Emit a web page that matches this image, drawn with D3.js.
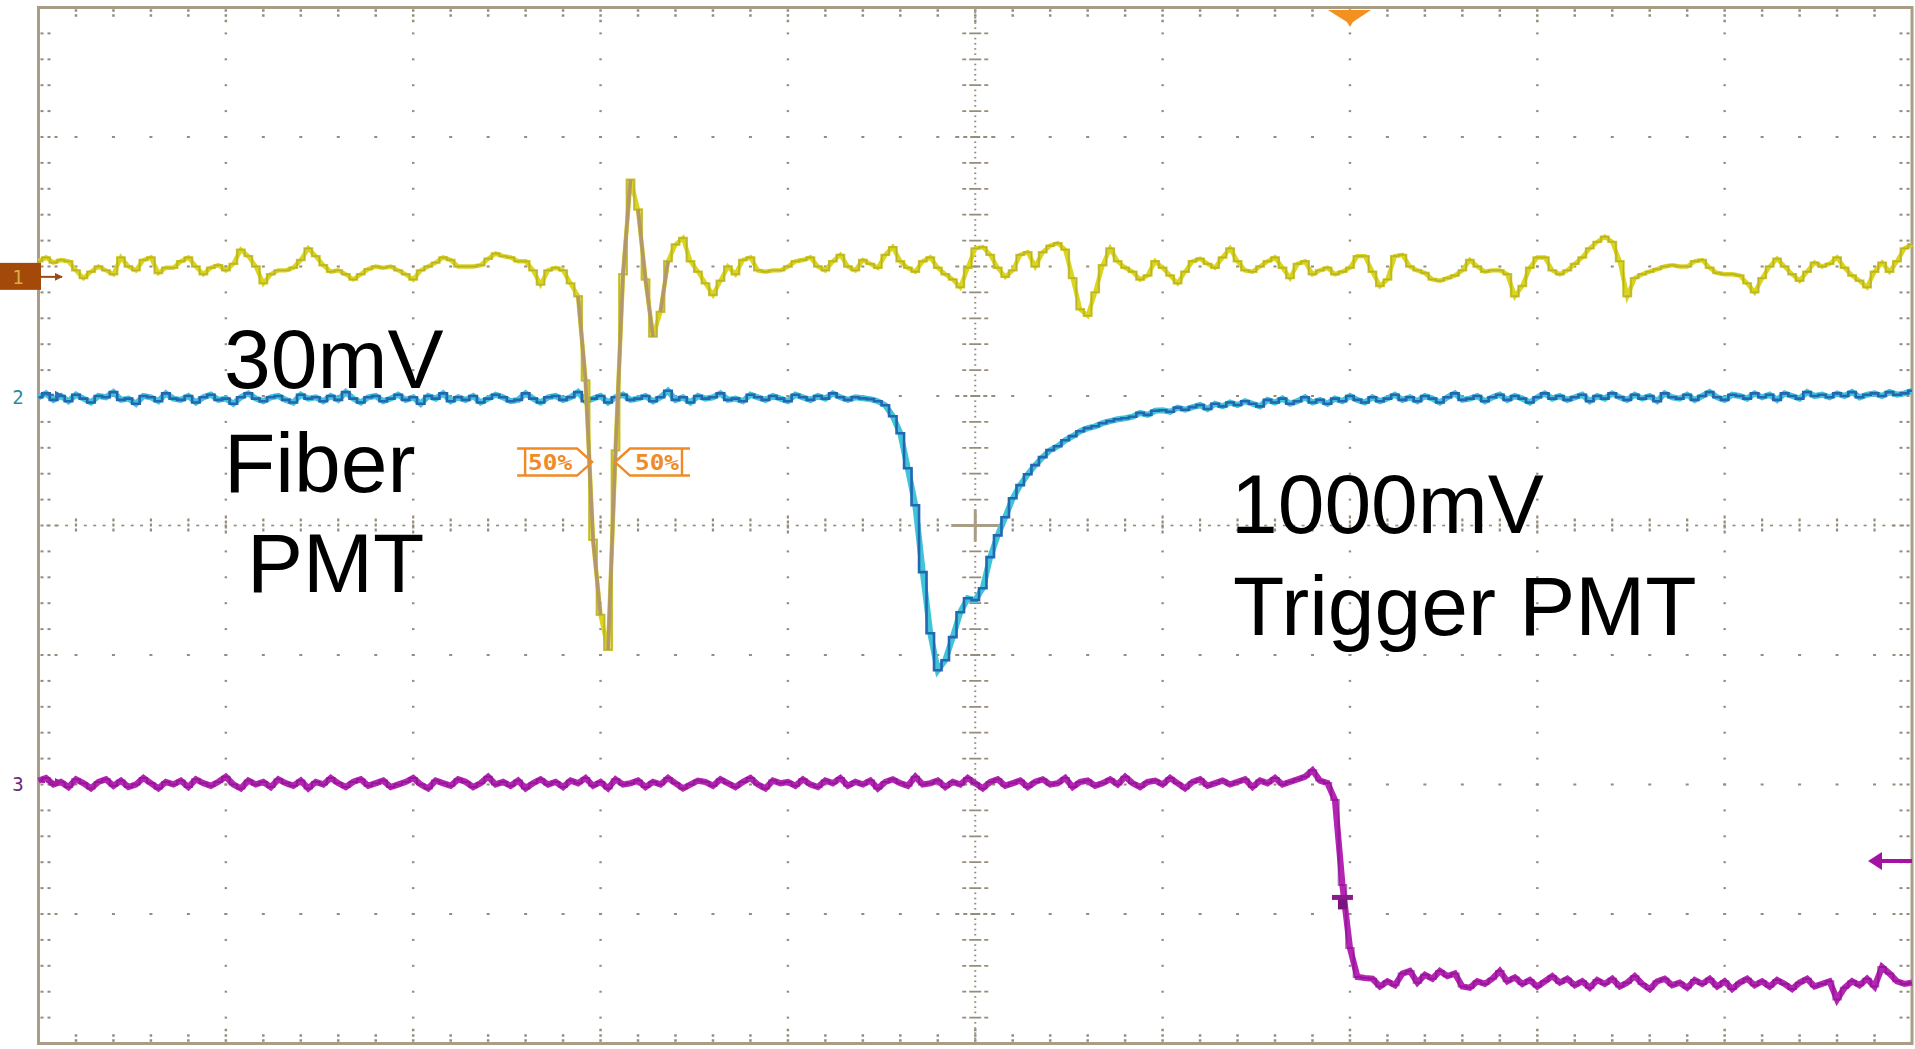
<!DOCTYPE html>
<html>
<head>
<meta charset="utf-8">
<script src="https://cdn.jsdelivr.net/npm/d3@7"></script>
<style>
  html, body { margin: 0; padding: 0; background: #ffffff; overflow: hidden; }
  svg { display: block; }
</style>
</head>
<body>
<svg id="scope" width="1915" height="1049"></svg>
<script>
// ---------------------------------------------------------------
// Acquisition: 251 samples across 10 horizontal divisions
// ---------------------------------------------------------------
const SAMPLE_STEP = 0.04;          // divisions per sample
const SAMPLE_COUNT = 251;

// Channel 1 - fiber PMT, mV (10 mV/div)
const ch1Fiber = [
  1.2,1.5,1.1,1.3,1.2,0.5,-0.1,0.4,0.8,0.5,
  0.2,1.5,0.8,0.5,1.3,1.5,0.3,0.7,0.7,1.2,
  1.5,0.8,0.2,0.7,0.9,0.5,1.0,2.1,1.6,0.8,
  -0.5,0.2,0.5,0.5,0.7,1.3,2.2,1.6,0.9,0.4,
  0.5,0.2,-0.2,0.2,0.6,0.8,0.7,0.8,0.5,0.2,
  -0.2,0.5,0.8,1.1,1.5,1.3,0.8,0.8,0.8,0.9,
  1.4,1.8,1.6,1.5,1.2,1.2,0.5,-0.6,0.5,0.7,
  0.5,-0.5,-1.5,-8.0,-20.3,-26.1,-28.8,-13.4,0.2,7.5,
  5.2,-0.2,-4.6,-2.7,1.2,2.5,3.0,1.2,0.4,-0.5,
  -1.4,-0.3,0.8,0.2,1.3,1.5,0.5,0.4,0.5,0.5,
  0.8,1.2,1.3,1.5,0.8,0.5,1.2,1.7,0.8,0.5,
  1.3,1.0,0.7,1.7,2.3,1.2,0.7,0.4,1.2,1.5,
  0.7,0.2,-0.2,-0.8,0.7,2.2,2.3,1.7,0.7,0.0,
  0.5,1.7,1.9,0.8,1.9,2.4,2.6,2.1,-0.1,-2.5,
  -3.0,-1.2,0.9,2.2,1.2,0.7,0.4,-0.2,0.1,1.2,
  0.7,0.1,-0.5,0.4,1.2,1.4,1.0,0.7,1.5,2.2,
  1.2,0.5,0.4,0.8,1.2,1.5,0.7,-0.1,1.0,1.2,
  0.2,0.5,0.7,0.2,0.4,0.7,1.6,1.6,0.4,-0.7,
  -0.2,1.6,1.7,0.8,0.5,0.3,-0.2,-0.3,-0.1,0.1,
  0.5,1.3,0.8,0.4,0.5,0.5,0.2,-1.5,-0.7,0.7,
  1.5,1.5,0.5,0.2,0.5,1.0,1.5,2.2,2.7,3.1,
  2.7,1.2,-1.5,-0.1,0.2,0.4,0.6,0.8,0.9,0.8,
  0.8,1.2,1.3,0.7,0.3,0.2,0.2,0.1,-0.5,-1.2,
  -0.1,0.8,1.4,0.8,0.2,-0.3,0.4,1.1,0.8,1.0,
  1.5,0.7,0.1,-0.3,-0.8,0.4,1.1,0.4,1.2,2.2,2.5
];

// Channel 2 - trigger PMT, mV (500 mV/div)
const ch2Trigger = [
  -10,5,-20,-5,-25,0,-15,-30,-5,-10,
  10,-20,-15,-35,-5,-10,-25,5,-15,-20,
  -5,-30,-10,0,-20,-15,-35,-10,5,-15,
  -25,-10,-5,-20,-30,0,-15,-10,-25,-5,
  -20,10,-15,-30,-10,-5,-25,-15,0,-20,
  -10,-35,-5,-15,5,-25,-10,-20,-5,-30,
  -15,0,-10,-25,-20,5,-15,-30,-10,-5,
  -20,-10,10,-25,-15,-5,-30,-10,0,-20,
  -15,-5,-25,-10,15,-20,-10,-30,-5,-15,
  -10,5,-20,-15,-25,0,-10,-20,-5,-15,
  -25,0,-10,-20,-5,-15,5,-10,-20,-10,
  -14,-17,-25,-41,-83,-149,-284,-427,-685,-921,
  -1064,-1025,-936,-840,-786,-793,-747,-627,-543,-473,
  -400,-349,-307,-272,-241,-214,-199,-176,-160,-141,
  -129,-122,-110,-102,-95,-91,-85,-70,-78,-62,
  -60,-66,-50,-58,-48,-40,-55,-35,-45,-30,
  -40,-25,-35,-45,-20,-30,-15,-35,-25,-10,
  -30,-20,-35,-15,-25,-5,-20,-30,-10,-25,
  -15,0,-20,-10,-25,-5,-15,-30,-10,5,
  -20,-15,-5,-25,-10,0,-20,-5,-15,-30,
  -10,5,-15,-5,-20,-10,0,-25,-5,-15,
  5,-10,-20,0,-15,-5,-25,5,-10,-15,
  0,-20,-5,10,-10,-20,0,-5,-15,5,
  -10,0,-20,5,-5,-15,10,-5,0,-10,
  5,-5,10,-10,0,5,-5,10,0,5,15
];

// Channel 3 - discriminator output, mV (500 mV/div)
const ch3Logic = [
  5,15,-10,0,-20,10,-5,-25,0,10,
  -15,5,-20,-10,15,-5,-25,0,-10,5,
  -20,10,-5,-15,0,20,-10,-25,5,-10,
  0,-20,10,-5,-15,5,-25,0,-10,15,
  -5,-20,0,10,-15,-5,5,-20,-10,0,
  15,-10,-25,5,-5,-15,10,0,-20,-5,
  20,-10,0,-15,5,-25,-5,10,-10,0,
  -20,5,-5,15,-15,0,-25,10,-10,-5,
  5,-20,0,-10,15,-5,-25,-10,5,0,
  -15,10,-5,-20,0,15,-10,-25,5,-5,
  0,-15,10,-10,-20,5,-5,15,-15,0,
  -10,5,-25,0,10,-5,-15,20,-10,-5,
  5,-20,0,-10,15,-5,-25,0,10,-15,
  -5,5,-20,0,10,-10,-5,15,-20,0,
  5,-15,-5,10,-10,20,-5,-20,0,5,
  -10,15,-5,-25,0,10,-15,-5,5,-10,
  0,10,-20,5,-5,15,-10,0,10,20,
  45,5,-4,-70,-398,-641,-753,-757,
  -760,-790,-770,-785,-740,-730,-775,-745,-760,-730,-750,-740,
  -790,-795,-770,-780,-760,-730,-770,-755,-780,-765,
  -790,-770,-750,-775,-760,-785,-770,-795,-765,-780,
  -760,-790,-775,-750,-780,-800,-770,-760,-785,-775,
  -795,-765,-780,-760,-790,-770,-800,-775,-760,-785,
  -770,-790,-765,-780,-800,-775,-760,-790,-780,-770,
  -840,-795,-770,-785,-760,-790,-715,-740,-770,-780,-775
];

// Vertical set-up per channel: ground position (div) and mV per division
const channelIds     = ['1', '2', '3'];
const channelOffsets = [1.92, 1.01, -1.98];
const channelScales  = [10, 500, 500];

// Trigger: horizontal position (div) and level on channel 3 (mV)
const triggerTime  = 2.0;
const triggerLevel = -305;
// Point marked on the channel 3 edge (div, mV)
const edgeMark = [1.96, -446];

// 50% width measurement on channel 1
const halfLevel  = -14.3;              // mV
const halfPoints = [-2.045, -1.923];   // div

// Annotations (text, x-div, y-div of baseline)
const noteLines = [
  { text: '30mV',        t: -4.01,  v: 1.06 },
  { text: 'Fiber',       t: -4.01,  v: 0.26 },
  { text: 'PMT',         t: -3.887, v: -0.515 },
  { text: '1000mV',      t: 1.365,  v: -0.06 },
  { text: 'Trigger PMT', t: 1.376,  v: -0.845 }
];

// ---------------------------------------------------------------
const svg = d3.select('#scope');
const x = d3.scaleLinear().domain([-5, 5]).range([38.5, 1912]);
const y = d3.scaleLinear().domain([-4, 4]).range([1043.5, 7.5]);
const time = d3.range(SAMPLE_COUNT).map(i => -5 + i * SAMPLE_STEP);

const GRID = '#958c7b';
const FRAME = '#a89e85';

// ---------------- graticule ----------------
const grid = svg.append('g').attr('class', 'graticule');
const minorX = d3.range(1, 50).map(k => -5 + k * 0.2);
const minorY = d3.range(1, 40).map(k => -4 + k * 0.2);
const isMajor = v => Math.abs(v - Math.round(v)) < 1e-6;
const majorX = d3.range(-4, 5).filter(v => v !== 0);
const majorY = d3.range(-3, 4).filter(v => v !== 0);

function dot(px, py, w, h) {
  grid.append('rect').attr('x', px - w / 2).attr('y', py - h / 2)
    .attr('width', w).attr('height', h).attr('fill', GRID);
}

// dotted major lines
majorX.forEach(mx => minorY.forEach(my => dot(x(mx), y(my), 2.4, 2)));
majorY.forEach(my => minorX.forEach(mx => dot(x(mx), y(my), 3, 2)));

// frame tick marks
minorX.forEach(mx => {
  const px = x(mx);
  dot(px, 10.5, 2.5, 2.5); dot(px, 15.5, 2.5, 2.5);
  dot(px, 1040.5, 2.5, 2.5); dot(px, 1035.5, 2.5, 2.5);
  if (isMajor(mx)) { dot(px, 21, 2.5, 2.5); dot(px, 1030, 2.5, 2.5); }
});
minorY.forEach(my => {
  const py = y(my);
  dot(42, py, 3, 2); dot(49, py, 3, 2);
  dot(1908, py, 3, 2); dot(1901, py, 3, 2);
  if (isMajor(my)) { dot(56, py, 3, 2); dot(1894, py, 3, 2); }
});

// centre horizontal axis
const cy0 = y(0), cx0 = x(0);
d3.range(-99, 100).forEach(k => {
  if (k % 4 !== 0) dot(x(k * 0.05), cy0, 3, 1.6);
});
minorX.forEach(mx => {
  const h = isMajor(mx) ? 10 : 7;
  grid.append('line').attr('x1', x(mx)).attr('x2', x(mx))
    .attr('y1', cy0 - h).attr('y2', cy0 + h)
    .attr('stroke', GRID).attr('stroke-width', 2.2).attr('stroke-dasharray', '3,2');
});
// centre vertical axis
d3.range(-99, 100).forEach(k => {
  if (k % 5 !== 0) dot(cx0, y(k * 0.04), 2, 1.6);
});
minorY.forEach(my => {
  const w = isMajor(my) ? 20 : 13;
  grid.append('line').attr('x1', cx0 - w).attr('x2', cx0 + w)
    .attr('y1', y(my)).attr('y2', y(my))
    .attr('stroke', GRID).attr('stroke-width', 1.8)
    .attr('stroke-dasharray', isMajor(my) ? '4,4,4,3,10,3,4,4,4' : '4,3,12,3,4');
});
// centre cross
grid.append('line').attr('x1', cx0 - 24).attr('x2', cx0 + 24).attr('y1', cy0).attr('y2', cy0)
  .attr('stroke', FRAME).attr('stroke-width', 3);
grid.append('line').attr('x1', cx0).attr('x2', cx0).attr('y1', cy0 - 16).attr('y2', cy0 + 16)
  .attr('stroke', FRAME).attr('stroke-width', 3);

// frame
svg.append('rect').attr('x', x(-5)).attr('y', y(4))
  .attr('width', x(5) - x(-5)).attr('height', y(-4) - y(4))
  .attr('fill', 'none').attr('stroke', FRAME).attr('stroke-width', 3);

// ---------------- waveforms ----------------
const traces = svg.append('g').attr('class', 'traces');
function levelY(ch, mv) { return y(channelOffsets[ch] + mv / channelScales[ch]); }
function tracePath(ch, curve) {
  return d3.line().x((d, i) => x(time[i])).y(d => levelY(ch, d)).curve(curve);
}

// channel 3 (magenta): body plus darker pixel-stepped core
traces.append('path').datum(ch3Logic).attr('d', tracePath(2, d3.curveLinear))
  .attr('fill', 'none').attr('stroke', '#b624b4').attr('stroke-width', 6.2);
traces.append('path').datum(ch3Logic).attr('d', tracePath(2, d3.curveStep))
  .attr('fill', 'none').attr('stroke', '#86138c').attr('stroke-width', 2).attr('opacity', 0.65);

// channel 2 (cyan body, blue core)
traces.append('path').datum(ch2Trigger).attr('d', tracePath(1, d3.curveLinear))
  .attr('fill', 'none').attr('stroke', '#3fc4d8').attr('stroke-width', 6);
traces.append('path').datum(ch2Trigger).attr('d', tracePath(1, d3.curveStep))
  .attr('fill', 'none').attr('stroke', '#2466b2').attr('stroke-width', 2.6);

// channel 1 (yellow), fast edges drawn dimmer
traces.append('path').datum(ch1Fiber).attr('d', tracePath(0, d3.curveLinear))
  .attr('fill', 'none').attr('stroke', '#d9d61f').attr('stroke-width', 4.4);
traces.append('path').datum(ch1Fiber).attr('d', tracePath(0, d3.curveStep))
  .attr('fill', 'none').attr('stroke', '#c9c21e').attr('stroke-width', 2.4).attr('opacity', 0.9);
traces.append('path').datum(ch1Fiber).attr('d', tracePath(0, d3.curveStep))
  .attr('fill', 'none').attr('stroke', '#a09232').attr('stroke-width', 0.9).attr('opacity', 0.45);
const steep = [];
for (let i = 1; i < ch1Fiber.length; i++) {
  if (Math.abs(levelY(0, ch1Fiber[i]) - levelY(0, ch1Fiber[i - 1])) > 40) steep.push(i);
}
traces.selectAll('line.fast').data(steep).join('line').attr('class', 'fast')
  .attr('x1', i => x(time[i - 1])).attr('y1', i => levelY(0, ch1Fiber[i - 1]))
  .attr('x2', i => x(time[i])).attr('y2', i => levelY(0, ch1Fiber[i]))
  .attr('stroke', '#b4986c').attr('stroke-width', 3.6);

// ---------------- channel ground markers ----------------
const marks = svg.append('g').attr('class', 'markers');
const defs = svg.append('defs');
function arrowHead(id, color) {
  defs.append('marker').attr('id', id).attr('viewBox', '0 0 10 10')
    .attr('refX', 9).attr('refY', 5).attr('markerWidth', 4).attr('markerHeight', 4)
    .attr('orient', 'auto')
    .append('path').attr('d', 'M0,0 L10,5 L0,10 Z').attr('fill', color);
}
arrowHead('ah1', '#9c4a14');
arrowHead('ah2', '#2a6fb8');
arrowHead('ah3', '#a01ea0');

const g1 = levelY(0, 0), g2 = levelY(1, 0), g3 = levelY(2, 0);
marks.append('rect').attr('x', 0).attr('y', g1 - 14).attr('width', 41).attr('height', 27)
  .attr('fill', '#a34a0a');
marks.append('text').attr('x', 18).attr('y', g1 + 7).attr('text-anchor', 'middle')
  .attr('font-family', 'DejaVu Sans Mono, monospace').attr('font-size', 19)
  .attr('fill', '#d9ad42').text(channelIds[0]);
marks.append('line').attr('x1', 41).attr('x2', 62).attr('y1', g1).attr('y2', g1)
  .attr('stroke', '#9c4a14').attr('stroke-width', 2).attr('marker-end', 'url(#ah1)');

marks.append('text').attr('x', 18).attr('y', g2 + 9).attr('text-anchor', 'middle')
  .attr('font-family', 'DejaVu Sans Mono, monospace').attr('font-size', 19)
  .attr('fill', '#2a8ca6').text(channelIds[1]);
marks.append('line').attr('x1', 42).attr('x2', 62).attr('y1', g2).attr('y2', g2)
  .attr('stroke', '#2a6fb8').attr('stroke-width', 2).attr('stroke-dasharray', '3,1.5')
  .attr('marker-end', 'url(#ah2)');

marks.append('text').attr('x', 18).attr('y', g3 + 9).attr('text-anchor', 'middle')
  .attr('font-family', 'DejaVu Sans Mono, monospace').attr('font-size', 19)
  .attr('fill', '#6a2a7c').text(channelIds[2]);
marks.append('line').attr('x1', 42).attr('x2', 62).attr('y1', g3).attr('y2', g3)
  .attr('stroke', '#a01ea0').attr('stroke-width', 2).attr('stroke-dasharray', '3,1.5')
  .attr('marker-end', 'url(#ah3)');

// trigger position (top) and trigger level (right)
const tx = x(triggerTime);
marks.append('path')
  .attr('d', `M${tx - 22},10 L${tx + 21},10 L${tx + 3},22 L${tx},27 L${tx - 3},22 Z`)
  .attr('fill', '#f4901f');
const ty = levelY(2, triggerLevel);
marks.append('line').attr('x1', x(5)).attr('x2', x(5) - 34).attr('y1', ty).attr('y2', ty)
  .attr('stroke', '#a412a4').attr('stroke-width', 4);
marks.append('path')
  .attr('d', `M${x(5) - 44},${ty} L${x(5) - 30},${ty - 9} L${x(5) - 30},${ty + 9} Z`)
  .attr('fill', '#a412a4');

// point marker on the channel 3 edge
const ex = x(edgeMark[0]), ey = levelY(2, edgeMark[1]);
marks.append('rect').attr('x', ex - 10.5).attr('y', ey - 2.5).attr('width', 21).attr('height', 5)
  .attr('fill', '#8a1a8e');
marks.append('rect').attr('x', ex - 4.5).attr('y', ey + 2).attr('width', 9).attr('height', 10)
  .attr('fill', '#7a1280');

// ---------------- 50% width tags ----------------
const TAG = '#f08a26';
const hy = levelY(0, halfLevel);
function tag(tipX, dir) {
  // dir = -1: body to the left of the tip, +1: body to the right
  const p = d3.path();
  const far = tipX + dir * 75, near = tipX + dir * 15, bar = tipX + dir * 67;
  p.moveTo(far, hy - 13.5); p.lineTo(near, hy - 13.5); p.lineTo(tipX, hy);
  p.lineTo(near, hy + 13.5); p.lineTo(far, hy + 13.5);
  p.moveTo(bar, hy - 13.5); p.lineTo(bar, hy + 13.5);
  marks.append('path').attr('d', p.toString()).attr('fill', 'none')
    .attr('stroke', TAG).attr('stroke-width', 2.4);
  marks.append('text').attr('x', tipX + dir * 42).attr('y', hy + 8)
    .attr('text-anchor', 'middle').attr('font-family', 'DejaVu Sans Mono, monospace')
    .attr('font-weight', 'bold').attr('font-size', 21).attr('fill', TAG)
    .attr('textLength', 44).attr('lengthAdjust', 'spacingAndGlyphs').text('50%');
}
tag(x(halfPoints[0]), -1);
tag(x(halfPoints[1]), 1);

// ---------------- annotations ----------------
svg.append('g').attr('class', 'notes').selectAll('text').data(noteLines).join('text')
  .attr('x', d => x(d.t)).attr('y', d => y(d.v))
  .attr('font-family', 'Liberation Sans, Arial, sans-serif').attr('font-size', 84)
  .attr('fill', '#000000').text(d => d.text);
</script>
</body>
</html>
